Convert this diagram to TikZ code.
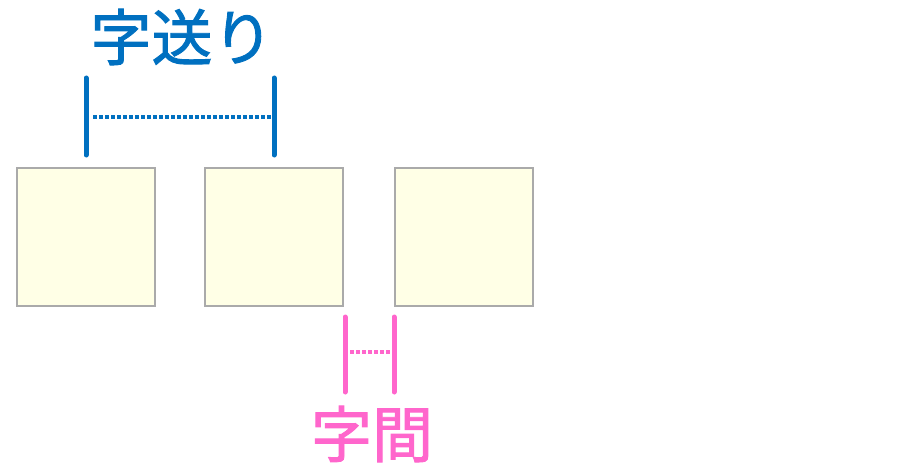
\documentclass[tikz,border=0pt]{standalone}
\usepackage{fontspec}
\newfontfamily\cjk[AutoFakeBold=1.5]{Noto Sans CJK JP}
\definecolor{okuricolor}{HTML}{0070C0}
\definecolor{kancolor}{HTML}{FF66CC}
\definecolor{cellfill}{HTML}{FFFFE6}
\definecolor{cellline}{HTML}{AAAAAA}
\tikzstyle{cell} = [draw=cellline,fill=cellfill,line width=2.5pt,minimum size=138pt,inner sep=0pt]
\tikzstyle{bar} = [line width=5pt,line cap=round]
\tikzstyle{gap} = [line width=4pt,dash pattern=on 3.5pt off 2.5pt]
\tikzstyle{caption} = [font=\cjk\bfseries\fontsize{61}{62}\selectfont,inner sep=0pt]

\begin{document}
\begin{tikzpicture}[x=1pt,y=-1pt]
	\useasboundingbox (0,0) rectangle (912,468);
	\node[cell] (c1) at (86,237) {};
	\node[cell] (c2) at (274,237) {};
	\node[cell] (c3) at (464,237) {};
	\node[caption,text=okuricolor] (okuri) at (182,37) {字送り};
	\node[caption,text=kancolor] (kan) at (372,434) {字間};
	\coordinate (o1t) at (86,78);
	\coordinate (o1b) at (86,155);
	\coordinate (o2t) at (274,78);
	\coordinate (o2b) at (274,155);
	\coordinate (o1m) at (93,117);
	\coordinate (o2m) at (272,117);
	\coordinate (k1t) at (345,317);
	\coordinate (k1b) at (345,392);
	\coordinate (k2t) at (394,317);
	\coordinate (k2b) at (394,392);
	\coordinate (k1m) at (350,352);
	\coordinate (k2m) at (392,352);
	\draw[bar,okuricolor] (o1t) -- (o1b);
	\draw[bar,okuricolor] (o2t) -- (o2b);
	\draw[gap,okuricolor] (o1m) -- (o2m);
	\draw[bar,kancolor] (k1t) -- (k1b);
	\draw[bar,kancolor] (k2t) -- (k2b);
	\draw[gap,kancolor] (k1m) -- (k2m);
\end{tikzpicture}
\end{document}
